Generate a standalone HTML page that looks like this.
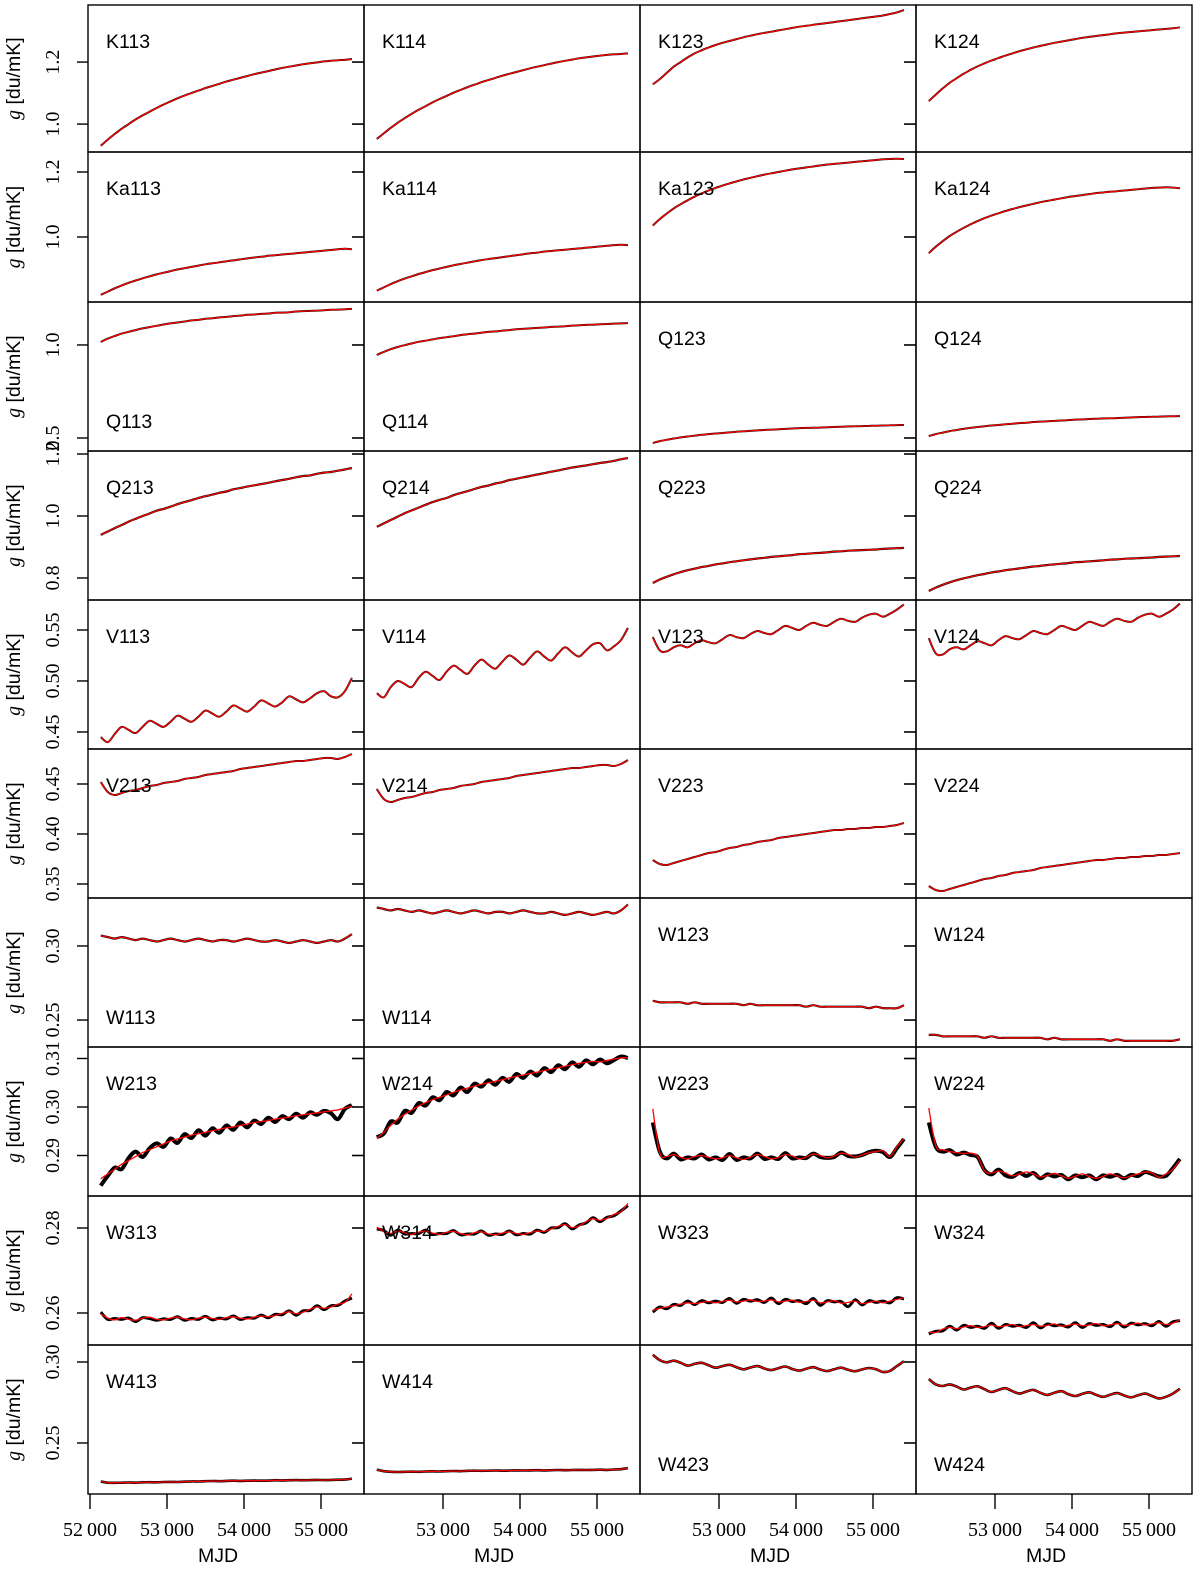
<!DOCTYPE html>
<html><head><meta charset="utf-8"><title>Gain curves</title>
<style>
html,body{margin:0;padding:0;background:#fff;}
svg{display:block;}
.lab{font-family:"Liberation Sans",sans-serif;font-size:19.5px;fill:#000;}
.tick{font-family:"Liberation Serif",serif;font-size:20px;fill:#000;}
.ttl{font-family:"Liberation Sans",sans-serif;font-size:19.5px;fill:#000;}
</style></head>
<body>
<svg id="chart" xmlns="http://www.w3.org/2000/svg" width="1200" height="1572" viewBox="0 0 1200 1572"></svg>
<script>
// ---- data ----
const mjdStart = 52140, mjdStep = 90.6, nPts = 37;
const xTicks = [52000, 53000, 54000, 55000];
const xTickLabels = ["52\u2009000", "53\u2009000", "54\u2009000", "55\u2009000"];
const rowNames = ["K","Ka","Q1","Q2","V1","V2","W1","W2","W3","W4"];
const rowDomainLo = [0.910,0.800,0.430,0.729,0.4333,0.336,0.2318,0.28165,0.25247,0.2185];
const rowDomainHi = [1.384,1.2615,1.231,1.2097,0.5794,0.485,0.3324,0.31237,0.28753,0.3105];
const rowTickVals = [[1.0,1.2],[1.0,1.2],[0.5,1.0],[0.8,1.0,1.2],[0.45,0.50,0.55],[0.35,0.40,0.45],[0.25,0.30],[0.29,0.30,0.31],[0.26,0.28],[0.25,0.30]];
const rowTickLabels = [["1.0","1.2"],["1.0","1.2"],["0.5","1.0"],["0.8","1.0","1.2"],["0.45","0.50","0.55"],["0.35","0.40","0.45"],["0.25","0.30"],["0.29","0.30","0.31"],["0.26","0.28"],["0.25","0.30"]];
const panelLabels = [
 ["K113","K114","K123","K124"],["Ka113","Ka114","Ka123","Ka124"],["Q113","Q114","Q123","Q124"],["Q213","Q214","Q223","Q224"],
 ["V113","V114","V123","V124"],["V213","V214","V223","V224"],["W113","W114","W123","W124"],["W213","W214","W223","W224"],
 ["W313","W314","W323","W324"],["W413","W414","W423","W424"]];
const labelAtBottom = [
 [0,0,0,0],[0,0,0,0],[1,1,0,0],[0,0,0,0],[0,0,0,0],[0,0,0,0],[1,1,0,0],[0,0,0,0],[0,0,0,0],[0,0,1,1]];

const K113=[0.93,0.95,0.968,0.985,1.0,1.015,1.028,1.04,1.052,1.063,1.073,1.083,1.092,1.1,1.108,1.116,1.123,1.13,1.137,1.143,1.149,1.155,1.161,1.166,1.171,1.176,1.181,1.185,1.189,1.193,1.196,1.199,1.202,1.204,1.206,1.207,1.21];
const K114=[0.952,0.97,0.988,1.004,1.019,1.033,1.046,1.058,1.07,1.081,1.091,1.101,1.11,1.119,1.127,1.135,1.142,1.149,1.156,1.162,1.168,1.174,1.18,1.185,1.19,1.195,1.2,1.204,1.208,1.212,1.215,1.218,1.221,1.223,1.225,1.226,1.228];
const K123=[1.128,1.145,1.165,1.185,1.2,1.215,1.228,1.238,1.247,1.255,1.262,1.268,1.274,1.28,1.285,1.29,1.294,1.298,1.302,1.306,1.31,1.314,1.317,1.32,1.323,1.326,1.329,1.332,1.335,1.338,1.341,1.344,1.347,1.35,1.355,1.36,1.368];
const K124=[1.074,1.095,1.115,1.133,1.148,1.162,1.175,1.186,1.196,1.205,1.213,1.221,1.228,1.235,1.241,1.247,1.252,1.257,1.262,1.266,1.27,1.274,1.278,1.281,1.284,1.287,1.29,1.293,1.295,1.297,1.299,1.301,1.303,1.305,1.307,1.309,1.312];
const Ka113=[0.822,0.832,0.842,0.851,0.859,0.866,0.873,0.879,0.885,0.89,0.895,0.9,0.904,0.908,0.912,0.916,0.919,0.922,0.925,0.928,0.931,0.934,0.937,0.939,0.942,0.944,0.946,0.948,0.95,0.952,0.954,0.956,0.958,0.96,0.962,0.964,0.962];
const Ka114=[0.835,0.845,0.855,0.864,0.872,0.879,0.886,0.892,0.898,0.903,0.908,0.913,0.917,0.921,0.925,0.929,0.932,0.935,0.938,0.941,0.944,0.947,0.95,0.952,0.955,0.957,0.959,0.961,0.963,0.965,0.967,0.969,0.971,0.973,0.975,0.976,0.975];
const Ka123=[1.035,1.055,1.072,1.088,1.101,1.113,1.124,1.134,1.143,1.151,1.158,1.165,1.171,1.177,1.182,1.187,1.192,1.196,1.2,1.204,1.208,1.211,1.214,1.217,1.22,1.223,1.225,1.227,1.229,1.231,1.233,1.235,1.237,1.239,1.24,1.241,1.24];
const Ka124=[0.95,0.97,0.987,1.003,1.016,1.028,1.039,1.049,1.058,1.066,1.073,1.08,1.086,1.092,1.097,1.102,1.107,1.111,1.115,1.119,1.123,1.126,1.129,1.132,1.135,1.137,1.139,1.141,1.143,1.145,1.147,1.149,1.151,1.152,1.153,1.152,1.15];
const Q113=[1.016,1.034,1.048,1.061,1.071,1.08,1.089,1.096,1.103,1.11,1.116,1.121,1.126,1.132,1.135,1.141,1.144,1.148,1.151,1.155,1.158,1.162,1.164,1.167,1.169,1.173,1.174,1.176,1.18,1.182,1.183,1.185,1.187,1.189,1.19,1.192,1.194];
const Q114=[0.946,0.963,0.977,0.989,0.999,1.008,1.017,1.023,1.03,1.037,1.042,1.047,1.053,1.058,1.061,1.066,1.07,1.073,1.077,1.08,1.084,1.087,1.089,1.092,1.094,1.097,1.099,1.101,1.104,1.106,1.108,1.109,1.111,1.113,1.115,1.116,1.118];
const Q123=[0.473,0.483,0.49,0.497,0.503,0.508,0.513,0.517,0.521,0.524,0.527,0.53,0.533,0.536,0.538,0.541,0.543,0.545,0.547,0.549,0.551,0.553,0.554,0.555,0.556,0.558,0.559,0.56,0.562,0.563,0.564,0.565,0.566,0.567,0.568,0.569,0.57];
const Q124=[0.51,0.521,0.529,0.537,0.543,0.549,0.554,0.559,0.563,0.567,0.57,0.574,0.577,0.58,0.582,0.586,0.588,0.59,0.592,0.594,0.596,0.599,0.6,0.602,0.603,0.605,0.606,0.607,0.609,0.61,0.612,0.613,0.614,0.615,0.616,0.617,0.618];
const Q213=[0.939,0.95,0.961,0.971,0.982,0.991,1.0,1.008,1.017,1.023,1.03,1.038,1.045,1.051,1.058,1.064,1.069,1.075,1.079,1.086,1.09,1.095,1.099,1.103,1.107,1.112,1.116,1.12,1.125,1.129,1.131,1.136,1.14,1.142,1.146,1.15,1.155];
const Q214=[0.965,0.976,0.987,0.998,1.009,1.018,1.027,1.036,1.045,1.052,1.058,1.067,1.074,1.08,1.087,1.094,1.098,1.105,1.109,1.116,1.12,1.125,1.129,1.134,1.138,1.143,1.147,1.152,1.156,1.16,1.163,1.167,1.171,1.174,1.178,1.183,1.187];
const Q223=[0.784,0.795,0.804,0.812,0.819,0.825,0.83,0.835,0.839,0.844,0.847,0.851,0.854,0.857,0.86,0.863,0.865,0.868,0.87,0.872,0.874,0.877,0.878,0.88,0.881,0.883,0.885,0.886,0.888,0.889,0.89,0.891,0.892,0.894,0.895,0.896,0.897];
const Q224=[0.758,0.769,0.778,0.786,0.793,0.799,0.804,0.809,0.813,0.818,0.821,0.825,0.828,0.831,0.834,0.837,0.839,0.842,0.844,0.846,0.848,0.851,0.852,0.854,0.855,0.857,0.859,0.86,0.862,0.863,0.864,0.865,0.866,0.868,0.869,0.87,0.871];
const V113=[0.445,0.44,0.448,0.455,0.452,0.449,0.455,0.461,0.458,0.455,0.46,0.466,0.463,0.46,0.465,0.471,0.468,0.465,0.47,0.476,0.473,0.47,0.475,0.481,0.478,0.475,0.479,0.485,0.482,0.479,0.483,0.488,0.49,0.485,0.484,0.49,0.503];
const V114=[0.488,0.484,0.494,0.5,0.497,0.494,0.503,0.509,0.505,0.501,0.509,0.515,0.511,0.507,0.515,0.521,0.516,0.512,0.519,0.525,0.521,0.516,0.523,0.529,0.524,0.52,0.527,0.533,0.528,0.524,0.53,0.536,0.537,0.53,0.534,0.54,0.552];
const V123=[0.543,0.53,0.529,0.533,0.535,0.533,0.537,0.54,0.538,0.537,0.541,0.545,0.543,0.542,0.546,0.549,0.547,0.546,0.55,0.554,0.552,0.55,0.554,0.557,0.555,0.554,0.558,0.561,0.559,0.558,0.562,0.565,0.566,0.563,0.566,0.57,0.575];
const V124=[0.542,0.527,0.526,0.531,0.533,0.531,0.535,0.539,0.537,0.535,0.54,0.544,0.542,0.541,0.545,0.549,0.547,0.546,0.55,0.554,0.552,0.55,0.554,0.558,0.556,0.554,0.558,0.561,0.559,0.558,0.562,0.565,0.566,0.563,0.566,0.57,0.576];
const V213=[0.452,0.442,0.439,0.441,0.443,0.444,0.446,0.448,0.449,0.451,0.452,0.453,0.455,0.456,0.457,0.459,0.46,0.461,0.462,0.463,0.465,0.466,0.467,0.468,0.469,0.47,0.471,0.472,0.473,0.473,0.474,0.475,0.476,0.476,0.475,0.477,0.48];
const V214=[0.445,0.435,0.432,0.434,0.436,0.437,0.439,0.441,0.442,0.444,0.445,0.446,0.448,0.449,0.45,0.452,0.453,0.454,0.455,0.456,0.458,0.459,0.46,0.461,0.462,0.463,0.464,0.465,0.466,0.466,0.467,0.468,0.469,0.469,0.468,0.47,0.474];
const V223=[0.374,0.37,0.369,0.371,0.373,0.375,0.377,0.379,0.381,0.382,0.384,0.386,0.387,0.389,0.39,0.392,0.393,0.394,0.396,0.397,0.398,0.399,0.4,0.401,0.402,0.403,0.404,0.404,0.405,0.405,0.406,0.406,0.407,0.407,0.408,0.409,0.411];
const V224=[0.348,0.344,0.343,0.345,0.347,0.349,0.351,0.353,0.355,0.356,0.358,0.359,0.361,0.362,0.363,0.364,0.366,0.367,0.368,0.369,0.37,0.371,0.372,0.373,0.374,0.374,0.375,0.376,0.376,0.377,0.377,0.378,0.378,0.379,0.379,0.38,0.381];
const W113=[0.307,0.306,0.305,0.306,0.305,0.304,0.305,0.304,0.303,0.304,0.305,0.304,0.303,0.304,0.305,0.304,0.303,0.304,0.304,0.303,0.304,0.305,0.304,0.303,0.303,0.304,0.303,0.302,0.303,0.304,0.303,0.302,0.303,0.304,0.303,0.305,0.308];
const W114=[0.326,0.325,0.324,0.325,0.324,0.323,0.324,0.323,0.322,0.323,0.324,0.323,0.322,0.323,0.324,0.323,0.322,0.323,0.323,0.322,0.323,0.324,0.323,0.322,0.322,0.323,0.322,0.321,0.322,0.323,0.322,0.321,0.322,0.323,0.322,0.324,0.328];
const W123=[0.263,0.262,0.262,0.262,0.262,0.261,0.262,0.261,0.261,0.261,0.261,0.261,0.261,0.26,0.261,0.26,0.26,0.26,0.26,0.26,0.26,0.26,0.259,0.26,0.259,0.259,0.259,0.259,0.259,0.259,0.259,0.258,0.259,0.258,0.258,0.258,0.26];
const W124=[0.24,0.24,0.239,0.239,0.239,0.239,0.239,0.239,0.238,0.239,0.238,0.238,0.238,0.238,0.238,0.238,0.238,0.237,0.238,0.237,0.237,0.237,0.237,0.237,0.237,0.237,0.236,0.237,0.236,0.236,0.236,0.236,0.236,0.236,0.236,0.236,0.237];
const W213=[0.2852,0.2862,0.2872,0.2882,0.289,0.2898,0.2906,0.2912,0.2918,0.2924,0.293,0.2934,0.2938,0.2942,0.2945,0.2948,0.2951,0.2954,0.2957,0.2959,0.2962,0.2965,0.2968,0.297,0.2972,0.2975,0.2977,0.2979,0.2982,0.2984,0.2986,0.2988,0.299,0.2992,0.2994,0.2998,0.3002];
const W213obs=[0.2838,0.2858,0.2875,0.2872,0.2895,0.2908,0.2897,0.2915,0.2925,0.2918,0.2935,0.2926,0.2944,0.2936,0.2952,0.2941,0.2956,0.2947,0.2962,0.2953,0.2968,0.2958,0.2972,0.2965,0.2978,0.2969,0.2981,0.2975,0.2986,0.2978,0.2989,0.2984,0.2992,0.2987,0.2975,0.2996,0.3004];
const W214=[0.2935,0.2948,0.2962,0.2975,0.2985,0.2994,0.3002,0.3009,0.3015,0.302,0.3025,0.303,0.3035,0.3039,0.3043,0.3047,0.305,0.3053,0.3056,0.306,0.3063,0.3066,0.3069,0.3072,0.3075,0.3078,0.3081,0.3084,0.3087,0.309,0.3092,0.3094,0.3093,0.3096,0.3099,0.3101,0.3102];
const W214obs=[0.2938,0.2945,0.297,0.2968,0.2992,0.2988,0.3008,0.3003,0.302,0.3014,0.3031,0.3024,0.304,0.3031,0.3048,0.3042,0.3055,0.3046,0.306,0.3052,0.3068,0.306,0.3073,0.3065,0.308,0.3072,0.3086,0.3078,0.3092,0.3083,0.3096,0.3088,0.3098,0.309,0.3097,0.3104,0.3101];
const W223=[0.2996,0.2905,0.2898,0.2902,0.2896,0.2893,0.2898,0.29,0.2896,0.2893,0.2895,0.29,0.2895,0.2892,0.2897,0.2902,0.2898,0.2893,0.2896,0.2902,0.2899,0.2893,0.2897,0.2903,0.29,0.2895,0.2899,0.2905,0.2902,0.2897,0.2901,0.2906,0.2908,0.291,0.2898,0.2918,0.2935];
const W223obs=[0.2968,0.2908,0.2894,0.2904,0.2892,0.2896,0.2894,0.2902,0.2892,0.2896,0.2891,0.2903,0.2891,0.2896,0.2894,0.2904,0.2893,0.2896,0.2893,0.2905,0.2894,0.2896,0.2895,0.2904,0.2897,0.2895,0.2897,0.2906,0.2899,0.2898,0.2901,0.2907,0.291,0.2907,0.2897,0.2915,0.2934];
const W224=[0.2998,0.292,0.2912,0.2908,0.2906,0.2904,0.2905,0.2898,0.2868,0.2864,0.2868,0.2864,0.2858,0.2862,0.2866,0.2862,0.2856,0.2859,0.2863,0.2858,0.2853,0.2857,0.2862,0.2857,0.2853,0.2857,0.2862,0.2858,0.2854,0.2858,0.2862,0.2866,0.2864,0.2855,0.2862,0.2872,0.289];
const W224obs=[0.2968,0.2918,0.2908,0.2911,0.2902,0.2906,0.2901,0.2897,0.287,0.2861,0.2871,0.2859,0.2856,0.2864,0.2858,0.2864,0.2853,0.2861,0.2857,0.286,0.2851,0.2859,0.2855,0.2859,0.2851,0.2859,0.2856,0.286,0.2853,0.286,0.2858,0.2866,0.2862,0.2857,0.2858,0.2874,0.2893];
const W313=[0.2598,0.2588,0.2584,0.2589,0.2585,0.2583,0.2588,0.259,0.2585,0.2584,0.2588,0.259,0.2586,0.2584,0.2588,0.259,0.2587,0.2585,0.2589,0.2591,0.2588,0.2586,0.259,0.2593,0.2591,0.2594,0.2599,0.2603,0.2598,0.2602,0.2609,0.2614,0.2611,0.2614,0.2621,0.2625,0.2645];
const W313obs=[0.2602,0.2585,0.2587,0.2585,0.2588,0.258,0.2589,0.2587,0.2583,0.2586,0.2585,0.2591,0.2583,0.2587,0.2585,0.2592,0.2584,0.2588,0.2586,0.2593,0.2585,0.2589,0.2588,0.2595,0.2589,0.2597,0.2596,0.2605,0.2595,0.2605,0.2606,0.2617,0.2608,0.2617,0.2618,0.2628,0.2635];
const W314=[0.2802,0.2792,0.2787,0.2793,0.2789,0.2785,0.279,0.2793,0.2788,0.2785,0.279,0.2792,0.2787,0.2784,0.2789,0.2791,0.2786,0.2784,0.2788,0.2791,0.2787,0.2785,0.2789,0.2793,0.2792,0.2798,0.2804,0.2808,0.2801,0.2805,0.2815,0.2822,0.2818,0.2823,0.2832,0.2838,0.2858];
const W314obs=[0.2798,0.2794,0.2783,0.2795,0.2786,0.2787,0.2787,0.2795,0.2785,0.2787,0.2787,0.2794,0.2784,0.2786,0.2786,0.2793,0.2783,0.2786,0.2785,0.2793,0.2784,0.2787,0.2786,0.2795,0.279,0.28,0.2801,0.281,0.2798,0.2807,0.2812,0.2824,0.2815,0.2825,0.2829,0.284,0.2853];
const W323=[0.2606,0.2611,0.2614,0.2617,0.2621,0.2624,0.2622,0.2625,0.2627,0.2624,0.2627,0.263,0.2626,0.2628,0.2631,0.2627,0.2628,0.2631,0.2626,0.2628,0.263,0.2625,0.2627,0.263,0.2624,0.2626,0.2629,0.2623,0.2625,0.2628,0.2622,0.2625,0.2628,0.2624,0.2628,0.2632,0.2636];
const W323obs=[0.2602,0.2614,0.261,0.262,0.2618,0.2628,0.262,0.2629,0.2624,0.2628,0.2625,0.2634,0.2623,0.2632,0.2628,0.2631,0.2625,0.2635,0.2622,0.2632,0.2627,0.2629,0.2622,0.2634,0.2618,0.2629,0.2626,0.2627,0.2615,0.2631,0.2619,0.2629,0.2625,0.2628,0.2624,0.2636,0.2633];
const W324=[0.2555,0.2554,0.2562,0.2566,0.2563,0.2567,0.257,0.2566,0.2568,0.2572,0.2568,0.257,0.2573,0.2568,0.257,0.2573,0.2569,0.2571,0.2574,0.2569,0.2571,0.2574,0.257,0.2572,0.2575,0.257,0.2572,0.2575,0.2571,0.2573,0.2576,0.2572,0.2574,0.2577,0.2573,0.2576,0.2585];
const W324obs=[0.2551,0.2557,0.2558,0.2569,0.256,0.2571,0.2566,0.2569,0.2564,0.2576,0.2564,0.2573,0.2569,0.2571,0.2566,0.2577,0.2565,0.2574,0.257,0.2572,0.2567,0.2577,0.2566,0.2575,0.2571,0.2573,0.2568,0.2578,0.2567,0.2576,0.2572,0.2575,0.257,0.258,0.2569,0.2579,0.2582];
const W413=[0.2262,0.2255,0.2254,0.2255,0.2256,0.2255,0.2257,0.2258,0.2257,0.2259,0.226,0.2259,0.2261,0.2263,0.2262,0.2264,0.2265,0.2264,0.2266,0.2267,0.2266,0.2267,0.2268,0.2267,0.2268,0.227,0.2269,0.227,0.2271,0.227,0.2271,0.2272,0.2271,0.2272,0.2273,0.2274,0.228];
const W414=[0.2335,0.2326,0.2322,0.2321,0.2322,0.2323,0.2322,0.2324,0.2325,0.2324,0.2326,0.2327,0.2326,0.2328,0.2329,0.2328,0.2329,0.233,0.2329,0.233,0.2331,0.233,0.2331,0.2332,0.2331,0.2332,0.2333,0.2332,0.2333,0.2334,0.2333,0.2334,0.2335,0.2334,0.2336,0.2338,0.2345];
const W423=[0.3045,0.3012,0.2998,0.3008,0.2995,0.2978,0.2988,0.2995,0.298,0.2965,0.2975,0.2983,0.2968,0.2955,0.2966,0.2975,0.296,0.295,0.2962,0.2972,0.2957,0.2947,0.2958,0.2968,0.2954,0.2944,0.2955,0.2965,0.2952,0.2943,0.2954,0.2963,0.2955,0.2938,0.2945,0.2975,0.3005];
const W424=[0.2895,0.2862,0.2852,0.2862,0.2848,0.283,0.2842,0.285,0.2832,0.2815,0.2828,0.2838,0.282,0.2805,0.2818,0.2828,0.281,0.2797,0.281,0.282,0.2802,0.279,0.2803,0.2813,0.2797,0.2785,0.2798,0.2808,0.2793,0.2782,0.2795,0.2805,0.279,0.2775,0.2785,0.2805,0.2835];

const modelSeries = [
 [K113,K114,K123,K124],[Ka113,Ka114,Ka123,Ka124],[Q113,Q114,Q123,Q124],[Q213,Q214,Q223,Q224],
 [V113,V114,V123,V124],[V213,V214,V223,V224],[W113,W114,W123,W124],[W213,W214,W223,W224],
 [W313,W314,W323,W324],[W413,W414,W423,W424]];
const dataSeries = [
 [K113,K114,K123,K124],[Ka113,Ka114,Ka123,Ka124],[Q113,Q114,Q123,Q124],[Q213,Q214,Q223,Q224],
 [V113,V114,V123,V124],[V213,V214,V223,V224],[W113,W114,W123,W124],[W213obs,W214obs,W223obs,W224obs],
 [W313obs,W314obs,W323obs,W324obs],[W413,W414,W423,W424]];

// ---- layout ----
const NS = "http://www.w3.org/2000/svg";
const svg = document.getElementById('chart');
const colLeft = [88,364,640,916], colW = 276;
const rowTop = [5,152,302,451,600,749,898,1047,1196,1345], rowBottom = [152,302,451,600,749,898,1047,1196,1345,1494];
const blackWidth = [2,2,2,2.2,2,2,2.2,4,3,2.6];

function mk(tag, attrs){ const e=document.createElementNS(NS,tag); for(const k in attrs) e.setAttribute(k,attrs[k]); svg.appendChild(e); return e; }
function xScale(col, mjd){ return colLeft[col] + 2 + (mjd - 52000) * 0.077; }
function yScale(row, v){ const lo=rowDomainLo[row], hi=rowDomainHi[row]; return rowBottom[row] - (v-lo)/(hi-lo)*(rowBottom[row]-rowTop[row]); }
function pathFor(row, col, vals){
  const pts = vals.map((v,i)=>[xScale(col, mjdStart + mjdStep*i), yScale(row, v)]);
  let d = 'M'+pts[0][0].toFixed(1)+','+pts[0][1].toFixed(1);
  for(let i=0;i<pts.length-1;i++){
    const p0=pts[Math.max(0,i-1)], p1=pts[i], p2=pts[i+1], p3=pts[Math.min(pts.length-1,i+2)];
    const c1=[p1[0]+(p2[0]-p0[0])/6, p1[1]+(p2[1]-p0[1])/6], c2=[p2[0]-(p3[0]-p1[0])/6, p2[1]-(p3[1]-p1[1])/6];
    d += 'C'+c1[0].toFixed(1)+','+c1[1].toFixed(1)+' '+c2[0].toFixed(1)+','+c2[1].toFixed(1)+' '+p2[0].toFixed(1)+','+p2[1].toFixed(1);
  }
  return d;
}

for(let r=0;r<10;r++){
  for(let c=0;c<4;c++){
    const rect = mk('rect',{x:colLeft[c], y:rowTop[r], width:colW, height:rowBottom[r]-rowTop[r], fill:'none', stroke:'#000','stroke-width':1.4});
    
    
    const pb = mk('path',{d:pathFor(r,c,dataSeries[r][c]), fill:'none', stroke:'#000','stroke-width':blackWidth[r],'stroke-linejoin':'round'});
    
    
    const pr = mk('path',{d:pathFor(r,c,modelSeries[r][c]), fill:'none', stroke:'#f00','stroke-width':1.3,'stroke-linejoin':'round'});
    
    
    const ly = labelAtBottom[r][c] ? rowBottom[r]-23 : rowTop[r]+43;
    const t = mk('text',{x:colLeft[c]+18, y:ly, class:'lab'});
    t.textContent = panelLabels[r][c];
    
    
  }
  // y ticks
  rowTickVals[r].forEach((v,k)=>{
    const y = yScale(r, v);
    const tk = mk('line',{x1:77,x2:88,y1:y,y2:y,stroke:'#000','stroke-width':1.4});
    
    
    [364, 916].forEach(xr=>{
      const ti = mk('line',{x1:xr-12,x2:xr,y1:y,y2:y,stroke:'#000','stroke-width':1.6});
      
      
    });
    const tl = mk('text',{x:0,y:0,class:'tick','text-anchor':'middle',transform:'translate(59,'+y.toFixed(1)+') rotate(-90)'});
    tl.textContent = rowTickLabels[r][k];
    
    
  });
  const cy = (rowTop[r]+rowBottom[r])/2;
  const yt = mk('text',{x:0,y:0,class:'ttl','text-anchor':'middle',transform:'translate(20,'+cy+') rotate(-90)'});
  yt.innerHTML = '<tspan font-family="Liberation Serif, serif" font-style="italic">g</tspan> [du/mK]';
  
  
}
// x axes
for(let c=0;c<4;c++){
  xTicks.forEach((m,k)=>{
    if(c>0 && k===0) return;
    const x = xScale(c, m);
    const tk = mk('line',{x1:x,x2:x,y1:1494,y2:1509,stroke:'#000','stroke-width':1.4});
    
    
    const tl = mk('text',{x:x,y:1536,class:'tick','text-anchor':'middle'});
    tl.textContent = xTickLabels[k];
    
    
  });
  const xt = mk('text',{x:colLeft[c]+colW/2-8,y:1562,class:'ttl','text-anchor':'middle'});
  xt.textContent = 'MJD';
  
  
}
</script>
</body></html>
